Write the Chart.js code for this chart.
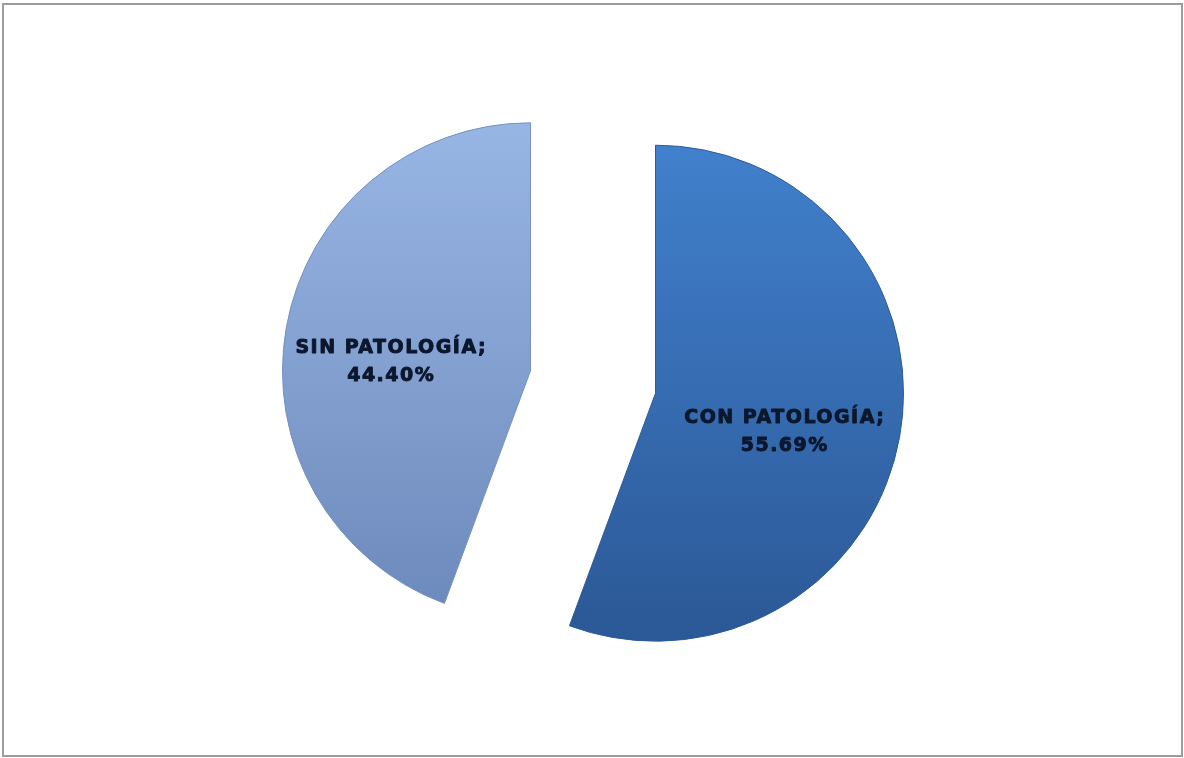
<!DOCTYPE html>
<html>
<head>
<meta charset="utf-8">
<title>Patología</title>
<script src="https://cdn.jsdelivr.net/npm/chart.js@4.4.0/dist/chart.umd.min.js"></script>
<style>
  html, body { margin: 0; padding: 0; background: #fff; }
  #wrap { position: relative; width: 1184px; height: 758px; overflow: hidden; }
  #frame {
    position: absolute; left: 2px; top: 3px; width: 1181px; height: 754px;
    box-sizing: border-box; border: 2px solid #9d9d9d; pointer-events: none;
  }
  canvas { position: absolute; left: 0; top: 0; }
</style>
</head>
<body>
<div id="wrap">
  <canvas id="pieChart" width="1184" height="758"></canvas>
  <div id="frame"></div>
</div>
<script>
const categories = ['CON PATOLOGÍA', 'SIN PATOLOGÍA']
const percentages = [55.69, 44.40]

// top / bottom colours of each slice's vertical gradient
const topColors = ['#4180cc', '#98b6e4']
const bottomColors = ['#2b5896', '#6c89bb']
const edgeColors = ['#2d5b99', '#7391c2']

// pulls every slice away from the centre along its middle angle
const explodePlugin = {
  id: 'explode',
  beforeDatasetDraw(chart, args, opts) {
    const ctx = chart.ctx
    args.meta.data.forEach(arc => {
      const mid = (arc.startAngle + arc.endAngle) / 2
      ctx.save()
      ctx.translate(Math.cos(mid) * opts.distance, Math.sin(mid) * opts.distance)
      arc.draw(ctx)
      ctx.restore()
    })
    return false
  }
}

// two line labels: "NAME;" and "xx.xx%"
const sliceLabels = {
  id: 'sliceLabels',
  afterDatasetsDraw(chart, args, opts) {
    const ctx = chart.ctx
    const meta = chart.getDatasetMeta(0)
    const shift = chart.options.plugins.explode.distance
    meta.data.forEach((arc, i) => {
      const mid = (arc.startAngle + arc.endAngle) / 2
      const r = arc.outerRadius * opts.position + shift
      const x = arc.x + Math.cos(mid) * r + opts.dx
      const y = arc.y + Math.sin(mid) * r + opts.dy
      const lines = [categories[i] + ';', percentages[i].toFixed(2) + '%']
      ctx.save()
      ctx.font = 'bold 19px "DejaVu Sans", Verdana, sans-serif'
      ctx.letterSpacing = '1.5px'
      ctx.textAlign = 'center'
      ctx.textBaseline = 'middle'
      ctx.fillStyle = '#0b172c'
      ctx.strokeStyle = '#0b172c'
      ctx.lineWidth = 0.9
      ctx.lineJoin = 'round'
      lines.forEach((t, k) => {
        const ly = y + (k - 0.5) * opts.lineGap
        ctx.fillText(t, x, ly)
        ctx.strokeText(t, x, ly)
      })
      ctx.restore()
    })
  }
}

function sliceGradient(context) {
  const chart = context.chart
  const area = chart.chartArea
  const i = context.dataIndex
  if (!area) return topColors[i]
  const g = chart.ctx.createLinearGradient(0, area.top, 0, area.bottom)
  g.addColorStop(0, topColors[i])
  g.addColorStop(1, bottomColors[i])
  return g
}

const pieChart = new Chart(document.getElementById('pieChart').getContext('2d'), {
  type: 'pie',
  data: {
    labels: categories,
    datasets: [{
      data: percentages,
      backgroundColor: sliceGradient,
      borderColor: edgeColors,
      borderWidth: 1,
    }]
  },
  options: {
    responsive: false,
    animation: false,
    radius: 248,
    layout: {
      padding: { left: 345, right: 343, top: 134, bottom: 128 }
    },
    plugins: {
      legend: { display: false },
      tooltip: { enabled: false },
      explode: { distance: 63.5 },
      sliceLabels: { position: 0.55, dx: -5, dy: 15, lineGap: 28 },
    },
  },
  plugins: [explodePlugin, sliceLabels]
})
</script>
</body>
</html>
